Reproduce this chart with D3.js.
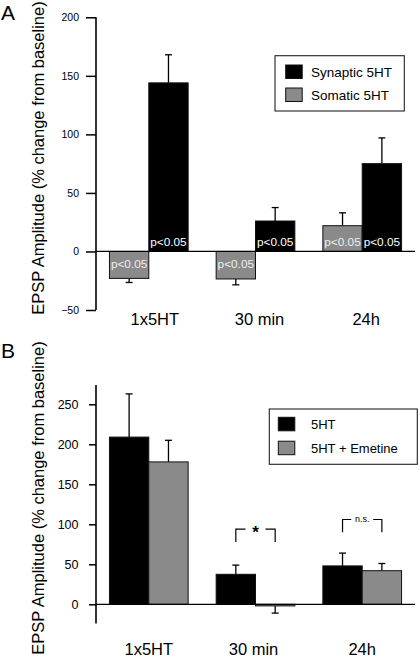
<!DOCTYPE html>
<html><head><meta charset="utf-8">
<script src="https://cdn.jsdelivr.net/npm/d3@7"></script>
<style>body{margin:0;background:#fff} svg{display:block}</style>
</head><body>
<svg id="c" width="420" height="658"></svg>
<script>
// ---------- data ----------
const groups = ["1x5HT", "30 min", "24h"];

// Panel A
const seriesA = ["Somatic 5HT", "Synaptic 5HT"];      // bar order in each group
const legendA = ["Synaptic 5HT", "Somatic 5HT"];      // legend order
const somaticA = [-23, -23.5, 22];
const somaticErrA = [3.5, 5, 11];
const synapticA = [144, 26, 75];
const synapticErrA = [24, 11.5, 22];
const pLabelA = "p<0.05";
const ticksA = [-50, 0, 50, 100, 150, 200];

// Panel B
const seriesB = ["5HT", "5HT + Emetine"];
const ctrlB = [209, 37.5, 48];
const ctrlErrB = [54, 11.5, 16];
const emetineB = [178, -2, 42];
const emetineErrB = [27, 9, 9];
const ticksB = [0, 50, 100, 150, 200, 250];
const bracketGroups = ["30 min", "24h"];
const bracketLabels = ["*", "n.s."];
const bracketTops = [94, 106];
const bracketLegs = [78, 90];

const yLabel = "EPSP Amplitude (% change from baseline)";
const colors = {black: "#000", gray: "#8a8a8a"};
const FONT = "'Liberation Sans', Arial, Helvetica, sans-serif";
const NARROW = "'Liberation Sans Narrow', 'Arial Narrow', 'Liberation Sans', sans-serif";

const svg = d3.select("#c").style("font-family", FONT);

function panel(cfg) {
  const g = svg.append("g");
  const x = d3.scaleBand().domain(groups).range([96, 415]).paddingInner(0.2625).paddingOuter(0.126);
  const xs = d3.scaleBand().domain(cfg.series).range([0, x.bandwidth()]).padding(0);
  const y = d3.scaleLinear().domain(cfg.yDomain).range(cfg.yRange);

  const rows = [];
  groups.forEach((grp, i) => {
    cfg.series.forEach((s, j) => {
      rows.push({grp, s, v: cfg.values[j][i], e: cfg.errors[j][i], color: cfg.colors[j], text: cfg.texts ? cfg.texts[j] : null, tcolor: cfg.textColors ? cfg.textColors[j] : null});
    });
  });
  const bx = d => x(d.grp) + xs(d.s);
  const bw = xs.bandwidth();

  // error bars
  const eg = g.append("g").attr("stroke", "#000").attr("stroke-width", 1.3);
  rows.forEach(d => {
    const cx = bx(d) + bw / 2;
    const tip = d.v >= 0 ? d.v + d.e : d.v - d.e;
    eg.append("line").attr("x1", cx).attr("x2", cx).attr("y1", y(d.v)).attr("y2", y(tip));
    eg.append("line").attr("x1", cx - 3.5).attr("x2", cx + 3.5).attr("y1", y(tip)).attr("y2", y(tip));
  });

  g.append("g").selectAll("rect").data(rows).join("rect")
    .attr("x", bx).attr("width", bw)
    .attr("y", d => y(Math.max(0, d.v)))
    .attr("height", d => Math.abs(y(d.v) - y(0)))
    .attr("fill", d => d.color)
    .attr("stroke", "#111").attr("stroke-width", 1);

  if (cfg.texts) {
    g.append("g").selectAll("text").data(rows).join("text")
      .attr("x", d => bx(d) + bw / 2)
      .attr("y", d => d.v >= 0 ? y(0) - 5.5 : y(0) + 16.5)
      .attr("text-anchor", "middle")
      .attr("font-size", 11.8)
      .attr("fill", d => d.tcolor)
      .text(d => d.text);
  }

  // zero line
  g.append("line").attr("x1", 96).attr("x2", 415).attr("y1", y(0)).attr("y2", y(0))
    .attr("stroke", "#000").attr("stroke-width", 1.3);

  // y axis
  const ax = g.append("g").attr("transform", "translate(96,0)")
    .call(d3.axisLeft(y).tickValues(cfg.ticks).tickSize(cfg.tickSize).tickPadding(cfg.tickPad).tickSizeOuter(0));
  ax.select(".domain").remove();
  ax.selectAll(".tick line").attr("stroke", "#000").attr("stroke-width", 1.5);
  ax.selectAll(".tick text").attr("font-size", cfg.tickFont).attr("font-family", cfg.tickFamily).attr("fill", "#000");
  g.append("line").attr("x1", 96).attr("x2", 96)
    .attr("y1", y(cfg.axisExtent[0])).attr("y2", y(cfg.axisExtent[1]))
    .attr("stroke", "#000").attr("stroke-width", 1.6);

  // x labels
  g.append("g").selectAll("text").data(groups).join("text")
    .attr("x", (d, i) => x(d) + x.bandwidth() / 2 + cfg.xLabelShift[i])
    .attr("y", cfg.xLabelY)
    .attr("text-anchor", "middle").attr("font-size", 16.5).attr("fill", "#000")
    .text(d => d);

  // y title
  g.append("text").attr("transform", `translate(44,${cfg.yTitleMid}) rotate(-90)`)
    .attr("text-anchor", "middle").attr("font-size", 16.5).attr("fill", "#000").text(yLabel);

  // panel letter
  g.append("text").attr("x", 1).attr("y", cfg.letterY).attr("font-size", 21).attr("fill", "#000").text(cfg.letter);

  // legend
  const L = cfg.legend;
  const lg = g.append("g");
  lg.append("rect").attr("x", L.x).attr("y", L.y).attr("width", L.w).attr("height", L.h)
    .attr("fill", "#fff").attr("stroke", "#222").attr("stroke-width", 1.1);
  L.items.forEach((it, k) => {
    lg.append("rect").attr("x", L.sx).attr("y", L.sy[k]).attr("width", 16.5).attr("height", 13.5)
      .attr("fill", it.color).attr("stroke", "#111").attr("stroke-width", 1);
    lg.append("text").attr("x", L.tx).attr("y", L.sy[k] + 11.5).attr("font-size", L.font).attr("fill", "#000").text(it.name);
  });

  return {g, x, xs, y};
}

// ---------- Panel A ----------
panel({
  series: seriesA,
  values: [somaticA, synapticA],
  errors: [somaticErrA, synapticErrA],
  colors: [colors.gray, colors.black],
  texts: [pLabelA, pLabelA],
  textColors: ["#eeeeee", "#ffffff"],
  yDomain: [-50, 200], yRange: [310, 17.3],
  ticks: ticksA, tickSize: 10, tickPad: 7, tickFont: 10.5, tickFamily: FONT,
  axisExtent: [-50, 200],
  xLabelY: 324.5, xLabelShift: [6, 4, 4],
  yTitleMid: 158, letter: "A", letterY: 20,
  legend: {x: 275, y: 55.7, w: 129.3, h: 55.3, sx: 285.7, sy: [65, 88], tx: 311, font: 13.5,
    items: [{name: legendA[0], color: colors.black}, {name: legendA[1], color: colors.gray}]}
});

// ---------- Panel B ----------
const pB = panel({
  series: seriesB,
  values: [ctrlB, emetineB],
  errors: [ctrlErrB, emetineErrB],
  colors: [colors.black, colors.gray],
  texts: null,
  yDomain: [0, 250], yRange: [604.3, 404.3],
  ticks: ticksB, tickSize: 7, tickPad: 10.5, tickFont: 12.5, tickFamily: NARROW,
  axisExtent: [-24, 274],
  xLabelY: 654.5, xLabelShift: [0, -2, 0],
  yTitleMid: 498, letter: "B", letterY: 358,
  legend: {x: 269.3, y: 409, w: 148, h: 55.3, sx: 278.3, sy: [417.3, 441.2], tx: 311, font: 13,
    items: [{name: seriesB[0], color: colors.black}, {name: seriesB[1], color: colors.gray}]}
});

// brackets
bracketGroups.forEach((grp, i) => {
  const {g, x, xs, y} = pB;
  const x1 = x(grp) + xs(seriesB[0]) + xs.bandwidth() / 2;
  const x2 = x(grp) + xs(seriesB[1]) + xs.bandwidth() / 2;
  const mid = (x1 + x2) / 2;
  const yt = y(bracketTops[i]), yl = y(bracketLegs[i]);
  const isStar = bracketLabels[i] === "*";
  const gap = isStar ? 10 : 11;
  const bg = g.append("g").attr("stroke", "#000").attr("stroke-width", 1.2).attr("fill", "none");
  bg.append("path").attr("d", `M${x1},${yl}V${yt}H${mid - gap}`);
  bg.append("path").attr("d", `M${x2},${yl}V${yt}H${mid + gap}`);
  g.append("text").attr("x", mid).attr("y", isStar ? yt + 9 : yt + 2.5)
    .attr("text-anchor", "middle")
    .attr("font-size", isStar ? 17 : 9)
    .attr("font-weight", isStar ? "bold" : "normal")
    .attr("fill", "#000").text(bracketLabels[i]);
});
</script>
</body></html>
